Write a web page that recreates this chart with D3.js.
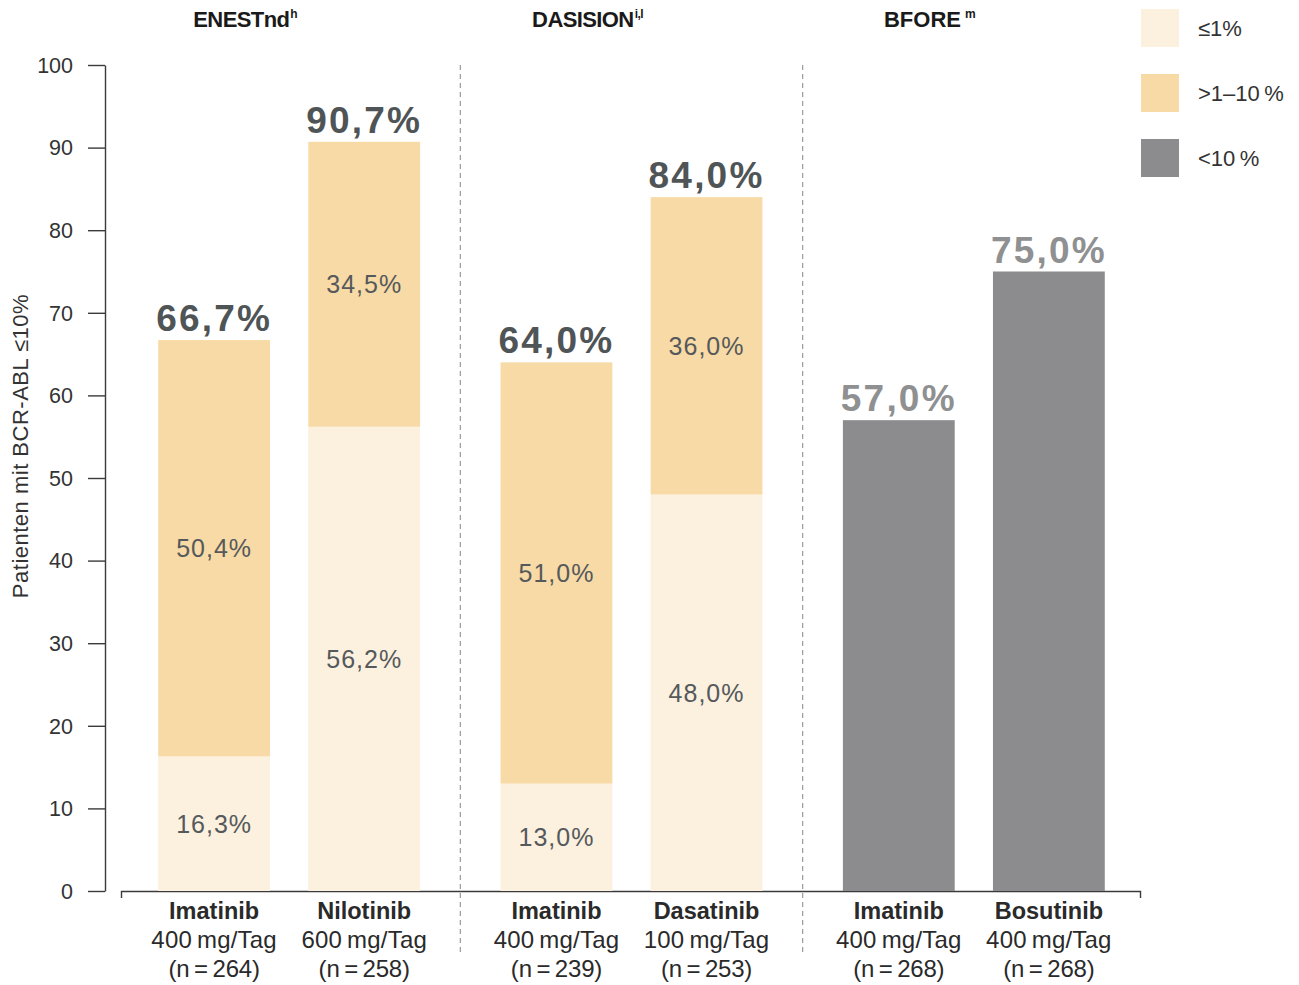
<!DOCTYPE html>
<html>
<head>
<meta charset="utf-8">
<script src="https://cdn.jsdelivr.net/npm/d3@7"></script>
<style>
  html, body { margin: 0; padding: 0; background: #fff; }
  svg { display: block; font-family: "Liberation Sans", Arial, sans-serif; }
</style>
</head>
<body>
<svg id="chart" width="1299" height="985"></svg>
<script>
// Studies (groups) and their header superscripts
const studies = ["ENESTnd", "DASISION", "BFORE"];
const studySup = ["h", "i,l", "m"];

// Arms, one per bar
const armStudy = [0, 0, 1, 1, 2, 2];
const armDrug = ["Imatinib", "Nilotinib", "Imatinib", "Dasatinib", "Imatinib", "Bosutinib"];
const armDose = ["400\u2009mg/Tag", "600\u2009mg/Tag", "400\u2009mg/Tag", "100\u2009mg/Tag", "400\u2009mg/Tag", "400\u2009mg/Tag"];
const armN = ["(n\u2009=\u2009264)", "(n\u2009=\u2009258)", "(n\u2009=\u2009239)", "(n\u2009=\u2009253)", "(n\u2009=\u2009268)", "(n\u2009=\u2009268)"];

// Percent of patients by BCR-ABL level (null = not reported for that arm)
const le1 = [16.3, 56.2, 13.0, 48.0, null, null];          // ≤1%
const gt1to10 = [50.4, 34.5, 51.0, 36.0, null, null];      // >1–10%
const lt10 = [null, null, null, null, 57.0, 75.0];         // <10% (only total)
const totals = [66.7, 90.7, 64.0, 84.0, 57.0, 75.0];

// Legend
const legendLabels = ["\u22641%", ">1\u201310\u2009%", "<10\u2009%"];
const colors = ["#fcf0df", "#f8daa6", "#8c8c8e"];

const yTicks = [0, 10, 20, 30, 40, 50, 60, 70, 80, 90, 100];
const yTitle = "Patienten mit BCR-ABL \u226410%";

const fmt = v => v.toFixed(1).replace(".", ",");

const svg = d3.select("#chart");

// Scales
const y = d3.scaleLinear().domain([0, 100]).range([891, 65]);
const xGroup = d3.scaleBand().domain(d3.range(studies.length)).range([118, 1145]);
const xInner = d3.scaleBand().domain([0, 1]).range([0, xGroup.bandwidth()])
  .paddingInner(0.255).paddingOuter(0.268);
const armIndexInGroup = armStudy.map((g, i) => i - armStudy.indexOf(g));
const barX = i => xGroup(armStudy[i]) + xInner(armIndexInGroup[i]);
const barW = xInner.bandwidth();
const barC = i => barX(i) + barW / 2;

// Y axis
const yAxis = d3.axisLeft(y).tickValues(yTicks).tickSize(17).tickSizeOuter(0).tickPadding(15);
const gy = svg.append("g").attr("transform", "translate(105,0)").call(yAxis);
gy.select(".domain").attr("stroke", "#3a3a3a").attr("stroke-width", 1.4);
gy.selectAll(".tick line").attr("stroke", "#3a3a3a").attr("stroke-width", 1.4);
gy.selectAll(".tick text").attr("font-size", 21.5).attr("fill", "#333").attr("dy", "0.34em")
  .attr("font-family", "Liberation Sans, Arial, sans-serif");

svg.append("text")
  .attr("transform", `translate(28,446) rotate(-90)`)
  .attr("text-anchor", "middle")
  .attr("font-size", 22).attr("fill", "#333")
  .attr("letter-spacing", 0.5)
  .text(yTitle);

// X axis baseline with end ticks
const xLine = d3.scaleLinear().domain([0, 1]).range([121, 1140]);
const gx = svg.append("g").attr("transform", `translate(0,${y(0)})`)
  .call(d3.axisBottom(xLine).tickValues([]).tickSizeOuter(7));
gx.select(".domain").attr("stroke", "#3a3a3a").attr("stroke-width", 1.4);

// Dashed separators between studies
for (let g = 1; g < studies.length; g++) {
  svg.append("line")
    .attr("x1", xGroup(g)).attr("x2", xGroup(g))
    .attr("y1", y(100)).attr("y2", 955)
    .attr("stroke", "#9a9a9a").attr("stroke-width", 1.2)
    .attr("stroke-dasharray", "5,4");
}

// Bars
const arms = d3.range(armDrug.length);
const stackRows = arms.map(i => [
  { i, y0: 0, y1: le1[i] ?? 0, c: 0, v: le1[i] },
  { i, y0: le1[i] ?? 0, y1: (le1[i] ?? 0) + (gt1to10[i] ?? 0), c: 1, v: gt1to10[i] },
  { i, y0: 0, y1: lt10[i] ?? 0, c: 2, v: lt10[i] }
].filter(s => s.v != null));
const segs = stackRows.flat();

svg.append("g").selectAll("rect").data(segs).join("rect")
  .attr("x", d => barX(d.i)).attr("width", barW)
  .attr("y", d => y(d.y1)).attr("height", d => y(d.y0) - y(d.y1))
  .attr("fill", d => colors[d.c]);

// Segment value labels (stacked bars only)
svg.append("g").selectAll("text").data(segs.filter(d => d.c < 2)).join("text")
  .attr("x", d => barC(d.i))
  .attr("y", d => y((d.y0 + d.y1) / 2) + 9)
  .attr("text-anchor", "middle")
  .attr("font-size", 25).attr("letter-spacing", 1)
  .attr("fill", "#55595b")
  .text(d => fmt(d.v) + "%");

// Totals above bars
svg.append("g").selectAll("text").data(arms).join("text")
  .attr("x", i => barC(i))
  .attr("y", i => y(totals[i]) - 9)
  .attr("text-anchor", "middle")
  .attr("font-size", 37).attr("font-weight", "bold").attr("letter-spacing", 2.2)
  .attr("fill", i => armStudy[i] === 2 ? "#8f9091" : "#4f5456")
  .text(i => fmt(totals[i]) + "%");

// Category labels under the axis
const cat = svg.append("g").selectAll("g").data(arms).join("g")
  .attr("transform", i => `translate(${barC(i)},0)`)
  .attr("text-anchor", "middle").attr("fill", "#2a2a2a");
cat.append("text").attr("y", 919).attr("font-size", 23.5).attr("font-weight", "bold")
  .text(i => armDrug[i]);
cat.append("text").attr("y", 948).attr("font-size", 24).attr("letter-spacing", 0.2)
  .text(i => armDose[i]);
cat.append("text").attr("y", 977).attr("font-size", 24).attr("letter-spacing", -0.2)
  .text(i => armN[i]);

// Study headers
studies.forEach((s, g) => {
  const t = svg.append("text")
    .attr("x", xGroup(g) + xGroup.bandwidth() / 2 - 44)
    .attr("y", 27)
    .attr("text-anchor", "middle")
    .attr("font-weight", "bold").attr("font-size", 22).attr("fill", "#1a1a1a")
    .attr("letter-spacing", g < 2 ? -0.6 : 0);
  t.append("tspan").text(s);
  t.append("tspan").attr("font-size", 12).attr("dy", -9).attr("dx", g === 2 ? 4 : 1).text(studySup[g]);
});

// Legend
const leg = svg.append("g").selectAll("g").data(legendLabels).join("g")
  .attr("transform", (d, k) => `translate(1141,${9 + k * 65})`);
leg.append("rect").attr("width", 38).attr("height", 38).attr("fill", (d, k) => colors[k]);
leg.append("text").attr("x", 57).attr("y", 27).attr("font-size", 22).attr("fill", "#333")
  .text(d => d);
</script>
</body>
</html>
